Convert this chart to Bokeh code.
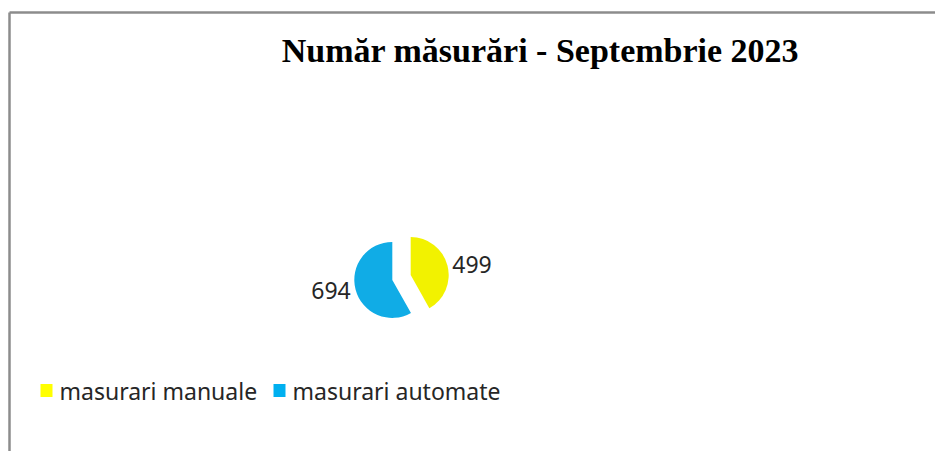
import math
from bokeh.plotting import figure
from bokeh.models import Range1d, ColumnDataSource
from bokeh.core.properties import value
from bokeh.embed import file_html
from bokeh.resources import INLINE

# ---- data ----
title_text = "Număr măsurări - Septembrie 2023"
categories = ["masurari manuale", "masurari automate"]
counts = [499, 694]
colors = ["#F2F200", "#10ACE6"]
legend_colors = ["#FFFF00", "#00B0F0"]

W, H = 935, 451
p = figure(width=W, height=H, output_backend="svg", toolbar_location=None,
           x_range=Range1d(0, W), y_range=Range1d(0, H),
           min_border=0, min_border_left=0, min_border_right=0,
           min_border_top=0, min_border_bottom=0)
p.axis.visible = False
p.grid.visible = False
p.outline_line_color = None
p.background_fill_color = "white"
p.border_fill_color = "white"

def Y(sy):
    return H - sy

# chart frame (top and left)
p.line(x=[9, W], y=[Y(12), Y(12)], line_color="#8C8C8C", line_width=2.5)
p.line(x=[9, 9], y=[Y(12), Y(H)], line_color="#8C8C8C", line_width=2.5)

# title
p.text(x=[540], y=[Y(50)], text=[title_text], text_font=value("Liberation Serif"),
       text_font_style="bold", text_font_size="34px", text_align="center",
       text_baseline="middle", text_color="black")

# pie
total = sum(counts)
cx, cy = 401, Y(277)
r = 38
explode = 9.5
starts, ends, xs, ys = [], [], [], []
a = math.pi / 2
for c in counts:
    sweep = 2 * math.pi * c / total
    s, e = a, a - sweep
    mid = (s + e) / 2
    starts.append(s)
    ends.append(e)
    xs.append(cx + explode * math.cos(mid))
    ys.append(cy + explode * math.sin(mid))
    a = e
src = ColumnDataSource(dict(x=xs, y=ys, start=starts, end=ends, color=colors))
p.wedge(x="x", y="y", radius=r, radius_units="screen", start_angle="start",
        end_angle="end", direction="clock", fill_color="color", line_color=None,
        source=src)

# data labels
lab_x, lab_y, lab_align = [], [], []
for i in range(len(counts)):
    mid = (starts[i] + ends[i]) / 2
    lx = xs[i] + (r + 5) * math.cos(mid)
    ly = ys[i] + (r + 5) * math.sin(mid)
    lab_x.append(lx)
    lab_y.append(ly)
    lab_align.append("left" if math.cos(mid) >= 0 else "right")
p.text(x=lab_x, y=lab_y, text=[str(c) for c in counts], text_align=lab_align,
       text_baseline="middle", text_font=value("Noto Sans"), text_font_size="23px",
       text_color="#262626")

# legend
leg_sq_x = [46, 279]
leg_y = Y(390)
p.rect(x=leg_sq_x, y=[leg_y] * 2, width=12, height=13, width_units="screen",
       height_units="screen", fill_color=legend_colors, line_color=None)
p.text(x=[v + 13 for v in leg_sq_x], y=[leg_y] * 2, text=categories,
       text_baseline="middle", text_align="left", text_font=value("Noto Sans"),
       text_font_size="23px", text_color="#262626")

open("out.html", "w").write(file_html(p, INLINE))
